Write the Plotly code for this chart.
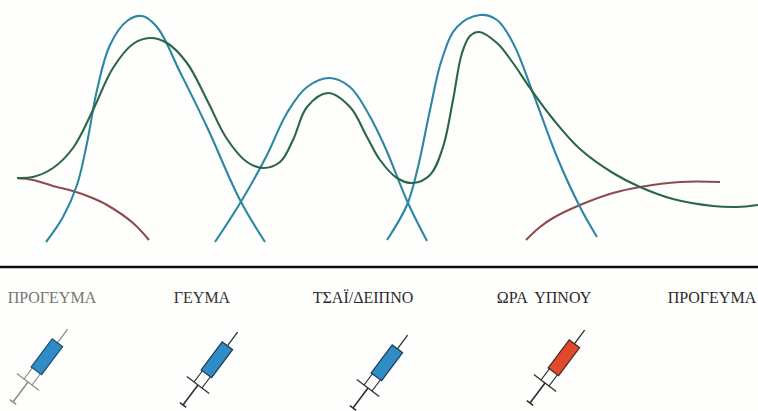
import plotly.graph_objects as go

# Curves (horizontal position, height in picture units)
green_x = [17, 33, 53, 73, 93, 113, 133, 150, 167, 187, 207, 227, 247, 263, 280, 293, 307, 328, 350, 367, 380,
           397, 413, 430, 443, 453, 462, 470, 479, 497, 513, 530, 553, 580, 613, 640, 673, 713, 737, 758]
green_y = [178, 177, 168, 148, 110, 68, 44, 38, 43, 63, 100, 139, 162, 168, 162, 140, 107, 93, 107, 137, 160,
           178, 183, 175, 147, 100, 53, 36, 32, 43, 63, 88, 119, 149, 173, 187, 199, 206, 207, 205]
blue1_x = [46, 63, 77, 87, 97, 110, 127, 142, 157, 180, 207, 240, 265]
blue1_y = [242, 217, 185, 143, 90, 45, 21, 16, 27, 72, 127, 200, 242]
blue2_x = [215, 242, 267, 287, 307, 330, 350, 368, 385, 408, 427]
blue2_y = [242, 200, 155, 113, 87, 78, 87, 113, 147, 203, 241]
blue3_x = [387, 407, 418, 430, 442, 457, 480, 497, 513, 533, 557, 580, 597]
blue3_y = [240, 205, 167, 110, 59, 27, 15, 20, 43, 93, 157, 207, 237]
red1_x = [17, 33, 53, 73, 90, 107, 133, 149]
red1_y = [178, 180, 186, 191, 197, 205, 223, 240]
red2_x = [526, 540, 553, 580, 613, 640, 680, 720]
red2_y = [240, 227, 218, 205, 193, 187, 182, 182]

labels = ["ΠΡΟΓΕΥΜΑ", "ΓΕΥΜΑ", "ΤΣΑΪ/ΔΕΙΠΝΟ", "ΩΡΑ  ΥΠΝΟΥ", "ΠΡΟΓΕΥΜΑ"]
label_x = [52, 202, 363, 544, 712]
label_y = [299, 299, 299, 299, 299]
label_colors = ["#77756f", "#333333", "#2a2a2a", "#2a2a2a", "#2a2a2a"]

syringe_x = [13, 183, 353, 530]
syringe_y = [402, 405, 408, 403]
syringe_fill = ["#2f8cc6", "#2f8cc6", "#2f8cc6", "#e2492c"]
syringe_ink = ["#8c8c88", "#2b3036", "#2b3036", "#2b2b2b"]
syringe_top = ["#1f4f70", "#1f3a55", "#1f3a55", "#4a2a22"]

BLUE = "#2b87a3"
GREEN = "#2c6648"
RED = "#8e4a4c"

fig = go.Figure()


def curve(x, y, color):
    fig.add_trace(go.Scatter(x=x, y=y, mode="lines", hoverinfo="skip",
                             line=dict(color=color, width=2.1, shape="spline", smoothing=1.05)))


curve(red1_x, red1_y, RED)
curve(red2_x, red2_y, RED)
curve(blue1_x, blue1_y, BLUE)
curve(blue2_x, blue2_y, BLUE)
curve(blue3_x, blue3_y, BLUE)
curve(green_x, green_y, GREEN)

fig.add_shape(type="line", x0=0, x1=758, y0=267, y1=267, line=dict(color="#0c0c0c", width=2.6))

fig.add_trace(go.Scatter(x=label_x, y=label_y, mode="text", text=labels, hoverinfo="skip",
                         textposition="middle center",
                         textfont=dict(family="Liberation Serif", size=16, color=label_colors)))

# Syringe drawing in its own units: along the axis (t) and across it (n)
ANGLE = (0.6, -0.8)
NORMAL = (0.8, 0.6)


def pt(ox, oy, t, n):
    return ox + t * ANGLE[0] + n * NORMAL[0], oy + t * ANGLE[1] + n * NORMAL[1]


def stroke(ox, oy, a, b, color, w):
    p, q = pt(ox, oy, *a), pt(ox, oy, *b)
    fig.add_shape(type="line", x0=p[0], y0=p[1], x1=q[0], y1=q[1], line=dict(color=color, width=w))


for ox, oy, fill, ink, top in zip(syringe_x, syringe_y, syringe_fill, syringe_ink, syringe_top):
    stroke(ox, oy, (74, 0), (91, 0), ink, 1.3)
    stroke(ox, oy, (0, 0), (25, 0), ink, 1.5)
    stroke(ox, oy, (0, -4), (0, 4), ink, 1.5)
    stroke(ox, oy, (25, -14), (25, 14), ink, 1.3)
    stroke(ox, oy, (25, -5), (40, -5), ink, 1.2)
    stroke(ox, oy, (25, 5), (40, 5), ink, 1.2)
    corners = [pt(ox, oy, 39, -6.5), pt(ox, oy, 39, 6.5), pt(ox, oy, 74, 6.5), pt(ox, oy, 74, -6.5)]
    path = "M " + " L ".join(f"{a:.1f},{b:.1f}" for a, b in corners) + " Z"
    fig.add_shape(type="path", path=path, fillcolor=fill, line=dict(color=top, width=1.2))

fig.update_layout(
    width=758, height=411, margin=dict(l=0, r=0, t=0, b=0),
    paper_bgcolor="#fefefc", plot_bgcolor="#fefefc", showlegend=False,
    xaxis=dict(range=[0, 758], visible=False, fixedrange=True),
    yaxis=dict(range=[411, 0], visible=False, fixedrange=True),
)
fig.write_html("out.html", config={"displayModeBar": False},
               post_script="document.body.style.margin='0';document.body.style.overflow='hidden';")
